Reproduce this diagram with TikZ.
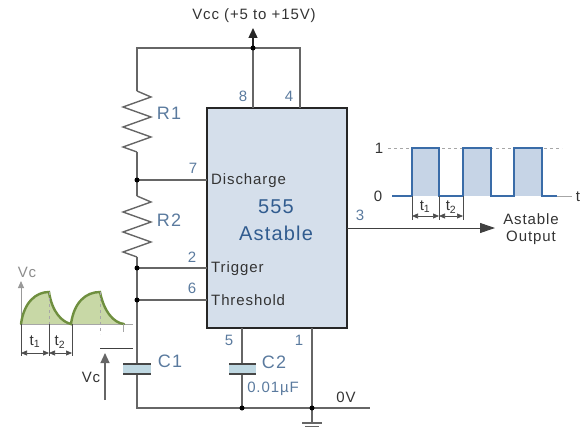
\documentclass[tikz,border=0pt]{standalone}
\usepackage{fontspec}
\setmainfont[LetterSpace=6]{Liberation Sans}
\usetikzlibrary{arrows.meta}
\definecolor{wirecol}{HTML}{666666}
\definecolor{labcol}{HTML}{5A7A9E}
\definecolor{txtcol}{HTML}{333333}
\definecolor{icfill}{HTML}{D5DFEB}
\definecolor{capfill}{HTML}{BFD8E2}
\definecolor{pulsecol}{HTML}{3A6CA8}
\definecolor{pulsefill}{HTML}{C6D4E6}
\definecolor{wavecol}{HTML}{6F8F3F}
\definecolor{wavefill}{HTML}{C8D8A6}
\newcommand{\resistor}[2]{\draw[wire] (#1) -- ++(14,6) -- ++(-28,10) -- ++(28,10) -- ++(-28,10) -- ++(28,10) -- ++(-28,10) -- (#2);}
\begin{document}
\begin{tikzpicture}[x=1pt, y=-1pt, font=\fontsize{15}{17}\selectfont, text=txtcol,
    wire/.style={draw=wirecol, line width=1.4pt},
    thin wire/.style={draw=black!75, line width=1pt},
    ar/.style={-{Stealth[length=15pt, width=10pt, inset=0pt]}},
    up ar/.style={-{Stealth[length=10pt, width=9pt, inset=0pt]}},
    small ar/.style={{Stealth[length=6pt, width=5pt, inset=0pt]}-{Stealth[length=6pt, width=5pt, inset=0pt]}, line width=0.7pt, draw=black!70},
    tick/.style={draw=black!70, line width=0.7pt},
    dot/.style={circle, fill=black, inner sep=0pt, minimum size=5pt},
    ic/.style={draw=black!85, line width=1.4pt, fill=icfill, minimum width=140pt, minimum height=220pt, inner sep=0pt},
    pin/.style={text=labcol, inner sep=0pt},
    lab/.style={inner sep=0pt},
    comp/.style={text=labcol, inner sep=0pt, font=\fontsize{18}{20}\selectfont},
    plate/.style={draw=wirecol!70!black, line width=2.6pt},
    capgap/.style={fill=capfill, draw=none},
    pulse/.style={draw=pulsecol, line width=2.8pt, line join=miter},
    wave/.style={draw=wavecol, line width=2.4pt, line cap=round}]
  \useasboundingbox (0,0) rectangle (585,428);

  % chip
  \node[ic] (ic) at (277,218) {};
  \node[lab, text=pulsecol!85!black, font=\fontsize{20}{24}\selectfont, align=center] (name) at (276,220) {555\\[3pt]Astable};
  \node[lab, anchor=west] (dis) at (211,181) {Discharge};
  \node[lab, anchor=west] (trig) at (211,269) {Trigger};
  \node[lab, anchor=west] (thr) at (211,300) {Threshold};

  % points of the circuit
  \coordinate (p8) at (253,108);
  \coordinate (p4) at (300,108);
  \coordinate (p7) at (207,180);
  \coordinate (p2) at (207,268);
  \coordinate (p6) at (207,300);
  \coordinate (p3) at (347,228);
  \coordinate (p5) at (242,328);
  \coordinate (p1) at (312,328);
  \coordinate (tl) at (137,48);
  \coordinate (tr) at (300,48);
  \coordinate (vcc) at (253,28);
  \coordinate (r1a) at (137,91);
  \coordinate (r1b) at (137,152);
  \coordinate (r2a) at (137,196);
  \coordinate (r2b) at (137,257);
  \coordinate (c1a) at (137,364);
  \coordinate (c1b) at (137,374);
  \coordinate (c2a) at (242,364);
  \coordinate (c2b) at (242,374);
  \coordinate (bl) at (137,408);
  \coordinate (br) at (370,408);
  \coordinate (gnd) at (312,423);
  \coordinate (out) at (495,228);
  \coordinate (j8) at (253,48);
  \coordinate (j7) at (137,180);
  \coordinate (j2) at (137,268);
  \coordinate (j6) at (137,300);
  \coordinate (j5) at (242,408);
  \coordinate (j1) at (312,408);

  % wires
  \draw[wire] (r1a) -- (tl) -- (tr) -- (p4);
  \draw[wire] (p8) -- (j8);
  \draw[wire, up ar, draw=black!85] (j8) -- (vcc);
  \resistor{r1a}{r1b}
  \draw[wire] (r1b) -- (j7) -- (r2a);
  \resistor{r2a}{r2b}
  \draw[wire] (r2b) -- (j2) -- (j6) -- (c1a);
  \draw[wire] (j7) -- (p7);
  \draw[wire] (j2) -- (p2);
  \draw[wire] (j6) -- (p6);
  \draw[wire] (c1b) -- (bl) -- (br);
  \draw[wire] (p5) -- (c2a);
  \draw[wire] (c2b) -- (j5);
  \draw[wire] (p1) -- (gnd);
  \draw[thin wire, ar] (p3) -- (out);

  \node[dot] (d8) at (j8) {};
  \node[dot] (d7) at (j7) {};
  \node[dot] (d2) at (j2) {};
  \node[dot] (d6) at (j6) {};
  \node[dot] (d5) at (j5) {};
  \node[dot] (d1) at (j1) {};

  % capacitors
  \fill[capgap] (123,364) rectangle (151,374);
  \draw[plate] (123,364) -- (151,364);
  \draw[plate] (123,374) -- (151,374);
  \fill[capgap] (229,364) rectangle (256,374);
  \draw[plate] (229,364) -- (256,364);
  \draw[plate] (229,374) -- (256,374);

  % ground
  \draw[wire] (302,423) -- (322,423);
  \draw[wire, line width=1pt] (305,426) -- (319,426);
  \draw[wire, line width=1pt] (308,429) -- (316,429);

  % labels
  \node[lab] (vcclab) at (254,16) {Vcc (+5 to +15V)};
  \node[comp] (r1) at (169,113) {R1};
  \node[comp] (r2) at (169,220) {R2};
  \node[comp] (c1) at (170,361) {C1};
  \node[comp] (c2) at (274,362) {C2};
  \node[lab, text=labcol] (cval) at (273,389) {0.01µF};
  \node[lab] (zero) at (346,397) {0V};
  \node[pin] (n8) at (243,96) {8};
  \node[pin] (n4) at (289,96) {4};
  \node[pin] (n7) at (193,168) {7};
  \node[pin] (n2) at (192,257) {2};
  \node[pin] (n6) at (192,288) {6};
  \node[pin] (n3) at (360,215) {3};
  \node[pin] (n5) at (229,340) {5};
  \node[pin] (n1) at (299,340) {1};
  \node[lab, align=center] (outlab) at (531,229) {Astable\\Output};

  % output pulses
  \fill[pulsefill] (412,148) rectangle (439,196);
  \fill[pulsefill] (463,148) rectangle (491,196);
  \fill[pulsefill] (514,148) rectangle (542,196);
  \draw[draw=black!35, dashed, line width=0.8pt] (388,148) -- (562,148);
  \draw[draw=black!35, line width=0.8pt] (557,196) -- (572,196);
  \draw[pulse] (392,196) -- (412,196) -- (412,148) -- (439,148) -- (439,196) -- (463,196) -- (463,148) -- (491,148) -- (491,196) -- (514,196) -- (514,148) -- (542,148) -- (542,196) -- (557,196);
  \node[lab] (one) at (379,148) {1};
  \node[lab] (nil) at (378,196) {0};
  \node[lab] (tax) at (578,197) {t};
  \draw[tick] (412,196) -- (412,220);
  \draw[tick] (439,196) -- (439,220);
  \draw[tick] (463,196) -- (463,220);
  \draw[small ar] (412,216) -- (439,216);
  \draw[small ar] (439,216) -- (463,216);
  \node[lab] (pt1) at (425,207) {t\textsubscript{1}};
  \node[lab] (pt2) at (451,207) {t\textsubscript{2}};

  % capacitor voltage
  \fill[wavefill] (21,324) .. controls (24,302) and (36,292) .. (49,292) .. controls (52,312) and (62,322) .. (71,324) -- cycle;
  \fill[wavefill] (71,324) .. controls (74,302) and (86,292) .. (100,292) .. controls (104,312) and (114,323) .. (124,324) -- cycle;
  \draw[draw=black!35, line width=1pt] (21,324) -- (133,324);
  \draw[draw=black!40, line width=1pt, -{Stealth[length=7pt, width=6pt, inset=0pt]}] (21,324) -- (21,281);
  \draw[wave] (21,324) .. controls (24,302) and (36,292) .. (49,292) .. controls (52,312) and (62,322) .. (71,324) .. controls (74,302) and (86,292) .. (100,292) .. controls (104,312) and (114,323) .. (124,324);
  \draw[draw=black!35, dashed, line width=0.7pt] (49,292) -- (49,324);
  \draw[draw=black!35, dashed, line width=0.7pt] (100,292) -- (100,334);
  \draw[draw=black!35, line width=0.7pt] (123,324) -- (123,332);
  \node[lab, text=black!45] (vcaxis) at (27,272) {Vc};
  \draw[tick] (21,324) -- (21,356);
  \draw[tick] (49,324) -- (49,356);
  \draw[tick] (72,324) -- (72,356);
  \draw[small ar] (21,353) -- (49,353);
  \draw[small ar] (49,353) -- (72,353);
  \node[lab] (wt1) at (35,342) {t\textsubscript{1}};
  \node[lab] (wt2) at (60,342) {t\textsubscript{2}};

  % voltage marker
  \draw[thin wire] (100,348) -- (133,348);
  \draw[draw=wirecol, line width=1.2pt, up ar] (105,400) -- (105,353);
  \node[lab] (vclab) at (91,377) {Vc};
\end{tikzpicture}
\end{document}
